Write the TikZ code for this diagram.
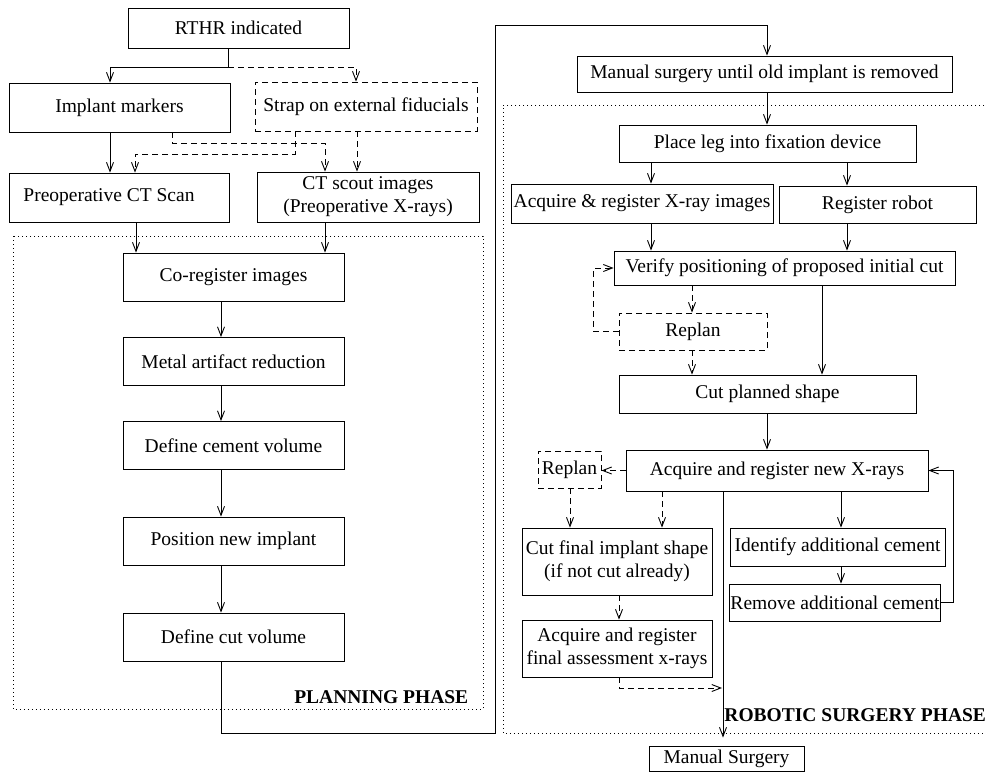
\documentclass[tikz,border=0pt]{standalone}
\usepackage{fontspec}
\setmainfont{Liberation Serif}
\usepackage{tikz}
\usetikzlibrary{arrows.meta,positioning,calc}

\begin{document}
\begin{tikzpicture}[
    x=1pt, y=-1pt,
    font=\fontsize{19.5}{23}\selectfont,
    line width=0.9pt,
    box/.style={
        draw,
        inner sep=1pt,
        minimum width=221pt,
        minimum height=48pt,
        align=center
    },
    dbox/.style={box, dash pattern=on 6pt off 4pt},
    phase/.style={draw, dash pattern=on 0.8pt off 3.2pt, line width=0.8pt},
    arrow/.style={-{Straight Barb[length=9pt,width=7pt]}},
    darrow/.style={arrow, dash pattern=on 6pt off 4pt}
]
\useasboundingbox (0,0) rectangle (986,772);

% phase frames
\draw[phase] (13,236) rectangle (483,709);
\draw[phase] (992,105) -- (503,105) -- (503,733) -- (992,733);
\node[font=\fontsize{19.5}{23}\selectfont\bfseries, anchor=base east] (planlbl) at (472,703) {PLANNING PHASE};
\node[font=\fontsize{19.5}{23}\selectfont\bfseries, anchor=base west, inner sep=0pt] (robolbl) at (724,721) {ROBOTIC SURGERY PHASE};

% planning side
\node[box, minimum height=40pt] (rthr) at (238.5,28) {RTHR indicated};
\node[box, minimum height=49pt] (markers) at (119.5,107.5) {Implant markers};
\node[dbox, minimum width=222pt, minimum height=49pt] (strap) at (366,106.5) {Strap on external fiducials};
\node[box, minimum width=220pt, minimum height=49pt] (preopct) at (119,197.5) {\hspace*{-20pt}Preoperative CT Scan};
\node[box, minimum width=222pt, minimum height=50pt] (scout) at (368,197) {CT scout images\\(Preoperative X-rays)};
\node[box] (coreg) at (233.5,277) {Co-register images};
\node[box] (metal) at (233.5,361.5) {Metal artifact reduction};
\node[box] (cement) at (233.5,445.5) {Define cement volume};
\node[box] (position) at (233.5,541) {Position new implant};
\node[box] (cutvol) at (233.5,637) {Define cut volume};

% surgery side
\node[box, minimum width=375pt, minimum height=36pt] (manual) at (764.5,74) {Manual surgery until old implant is removed};
\node[box, minimum width=297pt, minimum height=37pt] (place) at (767.5,143.5) {Place leg into fixation device};
\node[box, minimum width=262pt, minimum height=39pt] (acqxray) at (642,203.5) {Acquire \& register X-ray images};
\node[box, minimum width=197pt, minimum height=37pt] (robot) at (877.5,204.5) {Register robot};
\node[box, minimum width=341pt, minimum height=34pt] (verify) at (784.5,268) {Verify positioning of proposed initial cut};
\node[dbox, minimum width=148pt, minimum height=37pt] (replan) at (693,331.5) {Replan};
\node[box, minimum width=297pt, minimum height=38pt] (cutplan) at (767.5,394) {Cut planned shape};
\node[box, minimum width=302pt, minimum height=41pt] (acqnew) at (777,470.5) {Acquire and register new X-rays};
\node[dbox, minimum width=63pt, minimum height=37pt] (replanb) at (569.5,469.5) {Replan};
\node[box, minimum width=190pt, minimum height=67pt] (cutfinal) at (617,561.5) {Cut final implant shape\\(if not cut already)};
\node[box, minimum width=190pt, minimum height=57pt] (acqfinal) at (617,648.5) {Acquire and register\\final assessment x-rays};
\node[box, minimum width=215pt, minimum height=38pt] (identify) at (837.5,547) {Identify additional cement};
\node[box, minimum width=210pt, minimum height=37pt] (remove) at (835,602.5) {Remove additional cement};
\node[box, minimum width=155pt, minimum height=25pt] (msurg) at (726.5,758.5) {Manual Surgery};

% planning connectors
\coordinate (split) at (228,67);
\draw (rthr.south -| split) -- (split);
\draw[arrow] (split) -| (markers.north -| 110,0);
\draw[darrow] (split) -| (strap.north -| 356,0);
\draw[arrow] (markers.south -| 110,0) -- (preopct.north -| 110,0);
\draw[darrow] (markers.south -| 172,0) -- ++(0,11) -| (scout.north -| 325,0);
\draw[darrow] (strap.south -| 295,0) -- ++(0,23) -| (preopct.north -| 135,0);
\draw[darrow] (strap.south -| 357,0) -- (scout.north -| 357,0);
\draw[arrow] (preopct.south -| 136,0) -- (coreg.north -| 136,0);
\draw[arrow] (scout.south -| 325,0) -- (coreg.north -| 325,0);
\foreach \a/\b in {coreg/metal, metal/cement, cement/position, position/cutvol}
    \draw[arrow] (\a.south -| 221,0) -- (\b.north -| 221,0);
\draw[arrow] (cutvol.south -| 221,0) |- (495,733) -- (495,25) -| (manual.north -| 767,0);

% surgery connectors
\draw[arrow] (manual.south -| 767,0) -- (place.north -| 767,0);
\draw[arrow] (place.south -| 651,0) -- (acqxray.north -| 651,0);
\draw[arrow] (place.south -| 847,0) -- (robot.north -| 847,0);
\draw[arrow] (acqxray.south -| 651,0) -- (verify.north -| 651,0);
\draw[arrow] (robot.south -| 847,0) -- (verify.north -| 847,0);
\draw[darrow] (verify.south -| 692,0) -- (replan.north -| 692,0);
\draw[darrow] (replan.west) -- ++(-25,0) |- (verify.west);
\draw[darrow] (replan.south -| 692,0) -- (cutplan.north -| 692,0);
\draw[arrow] (verify.south -| 822,0) -- (cutplan.north -| 822,0);
\draw[arrow] (cutplan.south -| 767,0) -- (acqnew.north -| 767,0);
\draw[darrow] (acqnew.west) -- (acqnew.west -| replanb.east);
\draw[darrow] (replanb.south -| 570,0) -- (cutfinal.north -| 570,0);
\draw[darrow] (acqnew.south -| 662,0) -- (cutfinal.north -| 662,0);
\draw[darrow] (cutfinal.south -| 619,0) -- (acqfinal.north -| 619,0);
\coordinate (join) at (722,688);
\draw[darrow] (acqfinal.south -| 619,0) |- (join);
\draw[arrow, shorten >=8pt] (acqnew.south -| 723,0) -- (msurg.north -| 723,0);
\draw[arrow] (acqnew.south -| 841,0) -- (identify.north -| 841,0);
\draw[arrow] (identify.south -| 841,0) -- (remove.north -| 841,0);
\draw[arrow] (remove.east) -- ++(12,0) |- (acqnew.east);
\end{tikzpicture}
\end{document}
